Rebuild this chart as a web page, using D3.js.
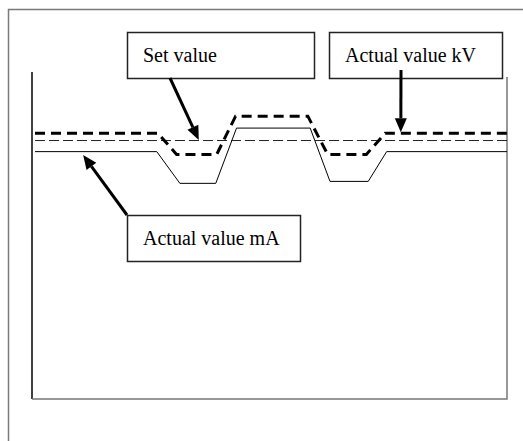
<!DOCTYPE html>
<html>
<head>
<meta charset="utf-8">
<script src="https://cdn.jsdelivr.net/npm/d3@7"></script>
<style>
  body { margin: 0; background: #fff; }
  svg { display: block; }
</style>
</head>
<body>
<div id="chart"></div>
<script>
// time axis is unitless (0..100), values too
const setValue = [[0, 79.2], [100, 79.2]];
const actualKV = [[0, 81.3], [26, 81.3], [30, 74.8], [38.5, 74.8], [42.5, 86.5],
                  [57.8, 86.5], [62, 74.8], [70.2, 74.8], [74.2, 81.3], [100.2, 81.3]];
const actualMA = [[0, 75.8], [25.8, 75.8], [30.7, 66.1], [38.3, 66.1], [42.7, 83],
                  [58.3, 83], [62.5, 66.7], [70.6, 66.7], [74.5, 75.8], [100, 75.8]];

// callout labels and the point each one points at
const labels = ['Set value', 'Actual value kV', 'Actual value mA'];
const labelTargets = [[34.7, 79.2], [77.5, 81.6], [10.2, 74.6]];

const width = 523, height = 441;

const svg = d3.select('#chart').append('svg')
    .attr('width', width)
    .attr('height', height);

const x = d3.scaleLinear().domain([0, 100]).range([35, 507]);
const y = d3.scaleLinear().domain([0, 100]).range([399, 72]);

// outer frame (top + left edges only)
svg.append('path')
    .attr('d', `M8.5,${height} V9.5 H${width}`)
    .attr('fill', 'none')
    .attr('stroke', '#7a7a7a')
    .attr('stroke-width', 1.5);

// plot frame
svg.append('line')
    .attr('x1', 32).attr('x2', 32)
    .attr('y1', y.range()[1]).attr('y2', y.range()[0])
    .attr('stroke', '#000')
    .attr('stroke-width', 1.5);
svg.append('path')
    .attr('d', `M32,${y.range()[0]} H${x.range()[1]} V77`)
    .attr('fill', 'none')
    .attr('stroke', '#777')
    .attr('stroke-width', 1.5);

const line = d3.line()
    .x(d => x(d[0]))
    .y(d => y(d[1]));

// thin lines nudged half a pixel so they stay crisp
const thin = svg.append('g').attr('transform', 'translate(0,0.5)');

thin.append('path')
    .datum(actualMA)
    .attr('d', line)
    .attr('fill', 'none')
    .attr('stroke', '#000')
    .attr('stroke-width', 1);

thin.append('path')
    .datum(setValue)
    .attr('d', line)
    .attr('fill', 'none')
    .attr('stroke', '#222')
    .attr('stroke-width', 1)
    .attr('stroke-dasharray', '10,4');

svg.append('path')
    .datum(actualKV)
    .attr('d', line)
    .attr('fill', 'none')
    .attr('stroke', '#000')
    .attr('stroke-width', 3)
    .attr('stroke-dasharray', '10,6');

// callout boxes: [x, y, w, h], text baseline and arrow start
const boxes = [
    { box: [127, 32, 187, 46], base: 62, from: [170, 78] },
    { box: [329, 32, 173, 46], base: 62, from: [401, 70] },
    { box: [127, 215, 173, 46], base: 245, from: [127, 215] }
];

const callouts = svg.selectAll('g.callout')
    .data(labels.map((t, i) => ({ text: t, target: labelTargets[i], ...boxes[i] })))
    .join('g')
    .attr('class', 'callout');

callouts.append('rect')
    .attr('x', d => d.box[0] + 0.5)
    .attr('y', d => d.box[1] + 0.5)
    .attr('width', d => d.box[2])
    .attr('height', d => d.box[3])
    .attr('fill', '#fff')
    .attr('stroke', '#222')
    .attr('stroke-width', 1.5);

callouts.append('text')
    .attr('x', d => d.box[0] + 16)
    .attr('y', d => d.base)
    .attr('font-family', '"Liberation Serif", "Times New Roman", serif')
    .attr('font-size', 20)
    .attr('fill', '#000')
    .text(d => d.text);

// arrows
const headLen = 14, headHalf = 6;
callouts.each(function(d) {
    const g = d3.select(this);
    const [x0, y0] = d.from;
    const x1 = x(d.target[0]), y1 = y(d.target[1]);
    const a = Math.atan2(y1 - y0, x1 - x0);
    const bx = x1 - headLen * Math.cos(a), by = y1 - headLen * Math.sin(a);
    g.append('line')
        .attr('x1', x0).attr('y1', y0)
        .attr('x2', bx).attr('y2', by)
        .attr('stroke', '#000')
        .attr('stroke-width', 3);
    const nx = -Math.sin(a) * headHalf, ny = Math.cos(a) * headHalf;
    g.append('path')
        .attr('d', `M${x1},${y1} L${bx + nx},${by + ny} L${bx - nx},${by - ny} Z`)
        .attr('fill', '#000');
});
</script>
</body>
</html>
